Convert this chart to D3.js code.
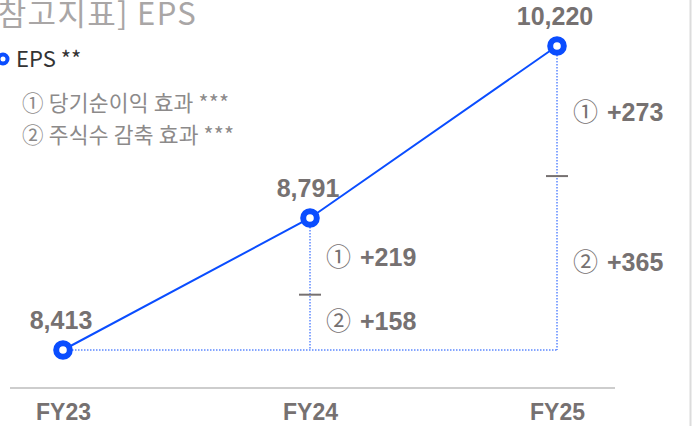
<!DOCTYPE html>
<html>
<head>
<meta charset="utf-8">
<script src="https://cdn.jsdelivr.net/npm/d3@7"></script>
<style>
  body { margin: 0; background: #fff; }
  svg { display: block; }
</style>
</head>
<body>
<div class="chart"></div>
<script>
// data
const years = ["FY23", "FY24", "FY25"];
const eps = [8413, 8791, 10220];
const netIncomeEffect = [null, 219, 273];   // ① 당기순이익 효과
const shareEffect = [null, 158, 365];       // ② 주식수 감축 효과
const legendItems = ["① 당기순이익 효과 ***", "② 주식수 감축 효과 ***"];

const width = 692, height = 426;
const blue = "#0a4dff";
const gray = "#767171";
const krFont = "'Noto Sans CJK KR', sans-serif";
const labelFont = "'Liberation Sans', Arial, sans-serif";

const svg = d3.select(".chart")
    .append("svg")
    .attr("width", width)
    .attr("height", height);

const xScale = d3.scalePoint()
    .domain(years)
    .range([63, 557]);

// the source chart is not drawn to a single linear scale, so use a piecewise one
const yScale = d3.scaleLinear()
    .domain(eps)
    .range([350, 218, 46]);

const baseY = yScale(eps[0]);

// right border
svg.append("line")
    .attr("x1", 690.5).attr("x2", 690.5)
    .attr("y1", 0).attr("y2", height)
    .attr("stroke", "#dcdcdc")
    .attr("stroke-width", 2);

// title
svg.append("text")
    .attr("x", -14)
    .attr("y", 25)
    .attr("font-family", krFont)
    .attr("font-size", 31)
    .attr("letter-spacing", 1.3)
    .attr("fill", "#a9a6a6")
    .text("[참고지표] EPS");

// legend
svg.append("circle")
    .attr("cx", 3).attr("cy", 59).attr("r", 4.5)
    .attr("fill", "white")
    .attr("stroke", blue)
    .attr("stroke-width", 4);
svg.append("text")
    .attr("x", 16).attr("y", 67)
    .attr("font-family", krFont)
    .attr("font-size", 22)
    .attr("fill", "#333")
    .text("EPS **");

svg.selectAll(".legend-item")
    .data(legendItems)
    .join("text")
    .attr("class", "legend-item")
    .attr("x", 22)
    .attr("y", (d, i) => 111 + i * 32)
    .attr("font-family", krFont)
    .attr("font-size", 21.5)
    .attr("letter-spacing", 0.2)
    .attr("fill", "#8c8a8a")
    .text(d => d);

// x axis
const xAxis = d3.axisBottom(xScale).tickSize(0).tickPadding(0);
svg.append("line")
    .attr("x1", 10).attr("x2", 615)
    .attr("y1", 388).attr("y2", 388)
    .attr("stroke", "#bdbdbd")
    .attr("stroke-width", 1.5);
svg.append("g")
    .attr("transform", "translate(0,420)")
    .call(xAxis)
    .call(g => g.select(".domain").remove())
    .call(g => g.selectAll(".tick text")
        .attr("y", 0)
        .attr("dy", 0)
        .attr("font-family", labelFont)
        .attr("font-weight", "bold")
        .attr("font-size", 23)
        .attr("fill", gray));

// dotted baseline and drops
svg.append("line")
    .attr("x1", xScale(years[0])).attr("x2", xScale(years[2]))
    .attr("y1", baseY).attr("y2", baseY)
    .attr("stroke", blue)
    .attr("stroke-width", 1)
    .attr("stroke-dasharray", "1.5,1.5");

const steps = years.map((y, i) => ({year: y, eps: eps[i], a: netIncomeEffect[i], b: shareEffect[i]}))
    .filter(d => d.a != null);

svg.selectAll(".drop")
    .data(steps)
    .join("line")
    .attr("class", "drop")
    .attr("x1", d => xScale(d.year)).attr("x2", d => xScale(d.year))
    .attr("y1", d => yScale(d.eps)).attr("y2", baseY)
    .attr("stroke", blue)
    .attr("stroke-width", 1)
    .attr("stroke-dasharray", "1.5,1.5");

// split mark between the two effects
const splitY = d => baseY + (yScale(d.eps) - baseY) * d.b / (d.a + d.b);
svg.selectAll(".split")
    .data(steps)
    .join("line")
    .attr("class", "split")
    .attr("x1", d => xScale(d.year) - 11).attr("x2", d => xScale(d.year) + 11)
    .attr("y1", splitY).attr("y2", splitY)
    .attr("stroke", gray)
    .attr("stroke-width", 2);

// effect labels
function effectLabel(sel, mark, key) {
    sel.append("tspan")
        .attr("font-family", krFont)
        .attr("font-weight", "normal")
        .text(mark);
    sel.append("tspan")
        .attr("dx", 9)
        .text(d => "+" + d[key]);
}

svg.selectAll(".lab-a")
    .data(steps)
    .join("text")
    .attr("class", "lab-a")
    .attr("x", d => xScale(d.year) + 16)
    .attr("y", d => (yScale(d.eps) + splitY(d)) / 2 + 10)
    .attr("font-family", labelFont)
    .attr("font-weight", "bold")
    .attr("font-size", 25)
    .attr("fill", gray)
    .call(effectLabel, "①", "a");

svg.selectAll(".lab-b")
    .data(steps)
    .join("text")
    .attr("class", "lab-b")
    .attr("x", d => xScale(d.year) + 16)
    .attr("y", d => (splitY(d) + baseY) / 2 + 8)
    .attr("font-family", labelFont)
    .attr("font-weight", "bold")
    .attr("font-size", 25)
    .attr("fill", gray)
    .call(effectLabel, "②", "b");

// line
const line = d3.line()
    .x((d, i) => xScale(years[i]))
    .y(d => yScale(d));

svg.append("path")
    .datum(eps)
    .attr("fill", "none")
    .attr("stroke", blue)
    .attr("stroke-width", 2)
    .attr("d", line);

svg.selectAll(".dot")
    .data(eps)
    .join("circle")
    .attr("class", "dot")
    .attr("cx", (d, i) => xScale(years[i]))
    .attr("cy", d => yScale(d))
    .attr("r", 6.8)
    .attr("fill", "white")
    .attr("stroke", blue)
    .attr("stroke-width", 6);

// value labels
svg.selectAll(".val")
    .data(eps)
    .join("text")
    .attr("class", "val")
    .attr("x", (d, i) => xScale(years[i]) - 2)
    .attr("y", d => yScale(d) - 21)
    .attr("text-anchor", "middle")
    .attr("font-family", labelFont)
    .attr("font-weight", "bold")
    .attr("font-size", 25)
    .attr("fill", gray)
    .text(d => d3.format(",")(d));
</script>
</body>
</html>
